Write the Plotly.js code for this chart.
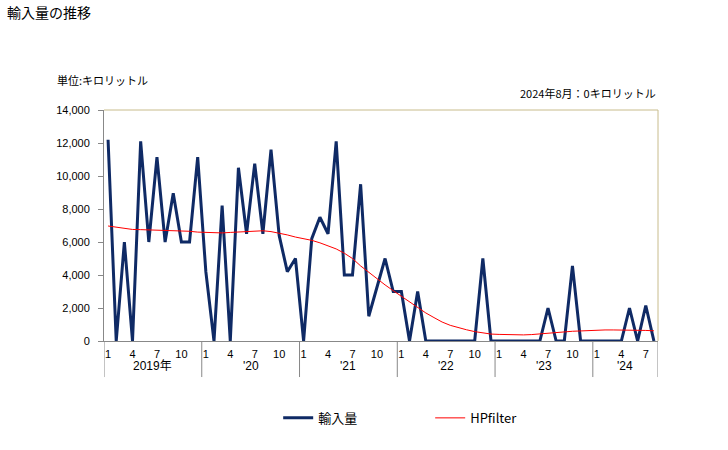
<!DOCTYPE html>
<html><head><meta charset="utf-8">
<script src="https://cdn.plot.ly/plotly-3.0.1.min.js"></script>
<style>body{margin:0;background:#fff}#c{width:728px;height:450px}</style>
</head><body><div id="c"></div>
<script>
const years = [2019, 2020, 2021, 2022, 2023, 2024];
const yearLabels = ["2019年", "'20", "'21", "'22", "'23", "'24"];
const monthsPerYear = [12, 12, 12, 12, 12, 8];
const imports = [
  12200, 0, 6000, 0, 12100, 6000, 11150, 6000, 8950, 6000, 6000, 11150,
  4200, 0, 8200, 0, 10500, 6500, 10750, 6500, 11600, 6400, 4200, 5000,
  0, 6200, 7500, 6500, 12100, 4000, 4000, 9500, 1500, 3200, 5000, 3000,
  3000, 0, 3000, 0, 0, 0, 0, 0, 0, 0, 5000, 0,
  0, 0, 0, 0, 0, 0, 2000, 0, 0, 4550, 0, 0,
  0, 0, 0, 0, 2000, 0, 2150, 0
];
const hpfilter = [
  6970, 6900, 6800, 6760, 6750, 6730, 6720, 6720, 6710, 6680, 6650, 6600,
  6570, 6540, 6550, 6580, 6610, 6650, 6690, 6680, 6630, 6550, 6430, 6300,
  6200, 6100, 5950, 5780, 5580, 5320, 5000, 4550, 4150, 3780, 3400, 3050,
  2700, 2350, 2000, 1700, 1420, 1150, 950, 800, 680, 570, 480, 420,
  400, 380, 360, 370, 390, 420, 460, 510, 550, 590, 620, 650,
  670, 670, 670, 670, 670, 660, 640, 620
];
const tickMonths = [1, 4, 7, 10];

const xs = [], tickvals = [], ticktext = [], shapes = [], annotations = [];
let idx = 0;
years.forEach((y, yi) => {
  const start = idx;
  for (let m = 1; m <= monthsPerYear[yi]; m++) {
    xs.push(idx);
    if (tickMonths.includes(m)) { tickvals.push(idx); ticktext.push(String(m)); }
    idx++;
  }
  shapes.push({type:'line', xref:'x', yref:'paper', x0:start-0.5, x1:start-0.5, y0:0, y1:-0.156, line:{color:'#888', width:1}});
  annotations.push({xref:'x', yref:'paper', x:(start + idx - 1)/2, y:-0.069, yanchor:'top', text:yearLabels[yi], showarrow:false, font:{size:12, color:'#000'}});
});
shapes.push({type:'line', xref:'x', yref:'paper', x0:idx-0.5, x1:idx-0.5, y0:0, y1:-0.156, line:{color:'#888', width:1}});
shapes.push({type:'line', xref:'paper', yref:'paper', x0:0, x1:1, y0:1, y1:1, line:{color:'#c8bc8c', width:1}});
shapes.push({type:'line', xref:'paper', yref:'paper', x0:1, x1:1, y0:0, y1:1, line:{color:'#c8bc8c', width:1}});

annotations.push({xref:'paper', yref:'paper', x:-0.178, y:1.425, xanchor:'left', yanchor:'middle', text:'輸入量の推移', showarrow:false, font:{size:14, color:'#000', family:'Noto Sans CJK JP'}});
annotations.push({xref:'paper', yref:'paper', x:-0.088, y:1.13, xanchor:'left', yanchor:'middle', text:'単位:キロリットル', showarrow:false, font:{size:11, color:'#000', family:'Noto Sans CJK JP'}});
annotations.push({xref:'paper', yref:'paper', x:1.0, y:1.073, xanchor:'right', yanchor:'middle', text:'2024年8月：0キロリットル', showarrow:false, font:{size:11, color:'#000', family:'Noto Sans CJK JP'}});

const data = [
  {x: xs, y: imports, type:'scatter', mode:'lines', name:'輸入量', line:{color:'#0f2a65', width:3}},
  {x: xs, y: hpfilter, type:'scatter', mode:'lines', name:'HPfilter', line:{color:'#ff0000', width:1}}
];
const layout = {
  width:728, height:450,
  margin:{l:104, r:70, t:110, b:109},
  paper_bgcolor:'#fff', plot_bgcolor:'#fff',
  font:{family:'Liberation Sans, Noto Sans CJK JP', size:11, color:'#000'},
  showlegend:true,
  legend:{orientation:'h', x:0.3144, xanchor:'left', y:-0.333, yanchor:'middle', font:{size:13, family:'Noto Sans CJK JP'}, entrywidth:107, entrywidthmode:'pixels', traceorder:'normal'},
  xaxis:{range:[-0.5, idx-0.5], tickmode:'array', tickvals:tickvals, ticktext:ticktext, ticks:'', showgrid:false, zeroline:false, showline:true, linecolor:'#888', linewidth:1, tickfont:{size:11}, ticklabelstandoff:3, fixedrange:true, automargin:false},
  yaxis:{range:[0,14000], dtick:2000, tickformat:',d', ticks:'outside', ticklen:5, tickcolor:'#888', showgrid:false, zeroline:false, showline:true, linecolor:'#888', linewidth:1, tickfont:{size:11}, ticklabelstandoff:6, fixedrange:true, automargin:false},
  shapes:shapes, annotations:annotations
};
Plotly.newPlot('c', data, layout, {displayModeBar:false, staticPlot:true});
</script></body></html>
